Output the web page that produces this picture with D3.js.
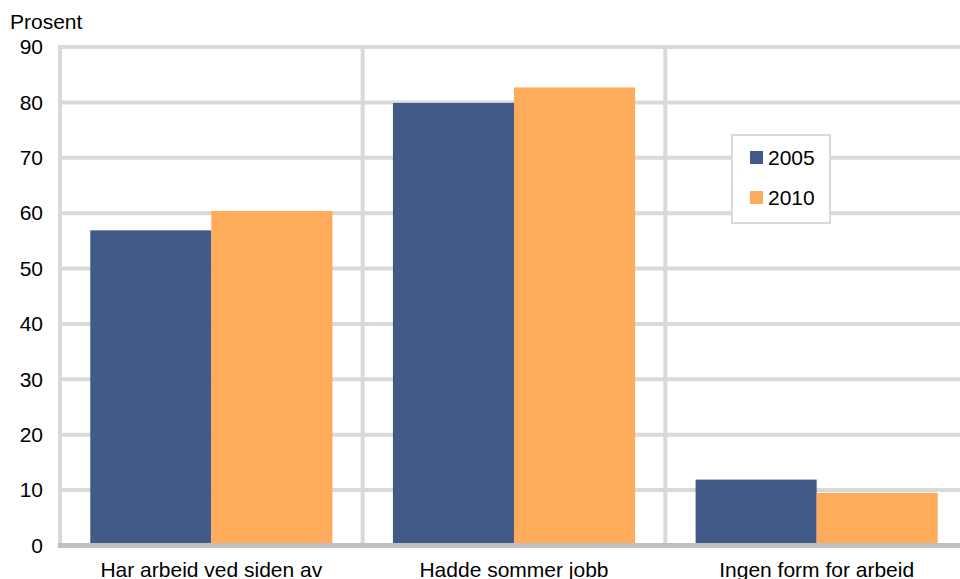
<!DOCTYPE html>
<html><head><meta charset="utf-8">
<script src="https://cdn.jsdelivr.net/npm/d3@7"></script>
<style>body{margin:0;background:#fff}svg{display:block;font-family:"Liberation Sans",Arial,sans-serif}</style>
</head><body><svg id="c" width="960" height="579"></svg>
<script>
const categories = ["Har arbeid ved siden av", "Hadde sommer jobb", "Ingen form for arbeid"];
const years = ["2005", "2010"];
const values2005 = [56.9, 79.9, 11.9];
const values2010 = [60.4, 82.7, 9.5];
const yTicks = [0, 10, 20, 30, 40, 50, 60, 70, 80, 90];
const colors = ["#425a88", "#ffab5c"];

(function () {
const svg = d3.select("#c");
const mLeft = 60, mRight = 968, mTop = 47, mBottom = 545.5;
const x0 = d3.scaleBand().domain(categories).range([mLeft, mRight]).padding(0);
const x1 = d3.scaleBand().domain(years).range([0, x0.bandwidth()]).paddingInner(0).paddingOuter(0.25);
const y = d3.scaleLinear().domain([0, 90]).range([mBottom, mTop]);
const series = [values2005, values2010];
const fs = 21;

// horizontal grid
svg.append("g").selectAll("line").data(yTicks.filter(d => d > 0)).join("line")
  .attr("x1", mLeft).attr("x2", mRight).attr("y1", d => y(d)).attr("y2", d => y(d))
  .attr("stroke", "#d9d9d9").attr("stroke-width", 4);
// vertical grid (category separators + left axis)
svg.append("g").selectAll("line").data(categories).join("line")
  .attr("x1", d => x0(d)).attr("x2", d => x0(d)).attr("y1", mTop - 2).attr("y2", mBottom)
  .attr("stroke", "#d9d9d9").attr("stroke-width", 4);

// bars
categories.forEach((c, i) => {
  years.forEach((yr, j) => {
    svg.append("rect")
      .attr("x", x0(c) + x1(yr)).attr("width", x1.bandwidth())
      .attr("y", y(series[j][i])).attr("height", y(0) - y(series[j][i]))
      .attr("fill", colors[j]);
  });
});

// baseline
svg.append("line").attr("x1", mLeft - 2).attr("x2", mRight).attr("y1", y(0)).attr("y2", y(0))
  .attr("stroke", "#bfbfbf").attr("stroke-width", 5);

// y axis labels
const yAxis = d3.axisLeft(y).tickValues(yTicks).tickSize(0).tickPadding(0);
const ga = svg.append("g").attr("transform", `translate(${mLeft - 17},0)`).call(yAxis);
ga.select(".domain").remove();
ga.selectAll("text").attr("font-size", fs).attr("font-family", "Liberation Sans, Arial, sans-serif").attr("fill", "#000");

svg.append("text").attr("x", 10).attr("y", 29).attr("font-size", fs).text("Prosent");

// x labels
const xAxis = d3.axisBottom(x0).tickSize(0).tickPadding(0);
const gx = svg.append("g").attr("transform", `translate(0,${mBottom + 17})`).call(xAxis);
gx.select(".domain").remove();
gx.selectAll("text").attr("font-size", fs).attr("font-family", "Liberation Sans, Arial, sans-serif").attr("fill", "#000");

// legend
const lg = svg.append("g");
lg.append("rect").attr("x", 732).attr("y", 135).attr("width", 98).attr("height", 88)
  .attr("fill", "#fff").attr("stroke", "#d9d9d9").attr("stroke-width", 2);
years.forEach((yr, j) => {
  lg.append("rect").attr("x", 750).attr("y", 151 + j * 40).attr("width", 13).attr("height", 13).attr("fill", colors[j]);
  lg.append("text").attr("x", 768).attr("y", 164.5 + j * 40).attr("font-size", fs).text(yr);
});
})();
</script></body></html>
